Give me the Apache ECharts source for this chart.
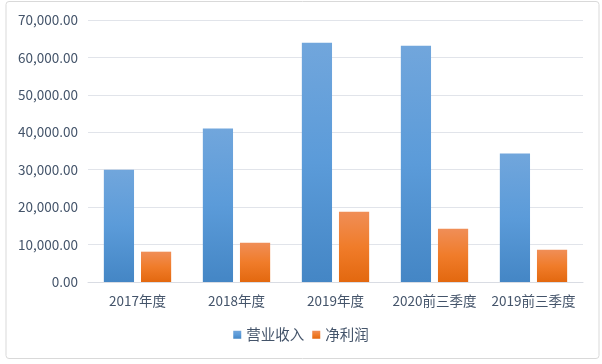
<!DOCTYPE html>
<html><head><meta charset="utf-8">
<script src="https://cdn.jsdelivr.net/npm/echarts@6/dist/echarts.min.js"></script>
<style>html,body{margin:0;padding:0;background:#fff}#c{width:602px;height:364px}</style>
</head><body><div id="c"></div>
<script>
const categories = ['2017年度','2018年度','2019年度','2020前三季度','2019前三季度'];
const revenue = [30000, 41000, 63900, 63100, 34300];
const netProfit = [8100, 10500, 18800, 14200, 8600];
const seriesNames = ['营业收入','净利润'];
const yTicks = {min: 0, max: 70000, interval: 10000};

const chart = echarts.init(document.getElementById('c'), null, {renderer:'canvas'});
const font = '"Noto Sans CJK SC", "Microsoft YaHei", sans-serif';
const labelColor = '#44546a';
function grad(top, mid, bot){
  return new echarts.graphic.LinearGradient(0,0,0,1,[{offset:0,color:top},{offset:0.5,color:mid},{offset:1,color:bot}]);
}
chart.setOption({
  animation:false,
  graphic:[{type:'rect',shape:{x:6,y:1.5,width:593,height:357,r:3},style:{fill:'none',stroke:'#d9d9d9',lineWidth:1},silent:true}],
  grid:{left:88,right:19,top:20,bottom:82,containLabel:false},
  legend:{data:seriesNames,bottom:17,left:'center',itemWidth:8,itemHeight:8,itemGap:8,icon:'rect',
    textStyle:{color:labelColor,fontSize:14.5,fontFamily:font}},
  xAxis:{type:'category',data:categories,
    axisLine:{lineStyle:{color:'#d9dce3'}},axisTick:{show:false},
    axisLabel:{color:labelColor,fontSize:13.5,fontFamily:font,margin:12,interval:0}},
  yAxis:{type:'value',min:yTicks.min,max:yTicks.max,interval:yTicks.interval,
    axisLine:{show:false},axisTick:{show:false},
    splitLine:{lineStyle:{color:'#e1e4ea'}},
    axisLabel:{color:labelColor,fontSize:13.5,fontFamily:font,margin:10,
      formatter:v=>v.toLocaleString('en-US',{minimumFractionDigits:2,maximumFractionDigits:2})}},
  series:[
    {name:seriesNames[0],type:'bar',data:revenue,barGap:'23%',barCategoryGap:'32%',
      itemStyle:{color:grad('#71a6dc','#5b9bd9','#4486c5')}},
    {name:seriesNames[1],type:'bar',data:netProfit,
      itemStyle:{color:grad('#f08e57','#f07c2a','#e3680f')}}
  ]
});
</script></body></html>
